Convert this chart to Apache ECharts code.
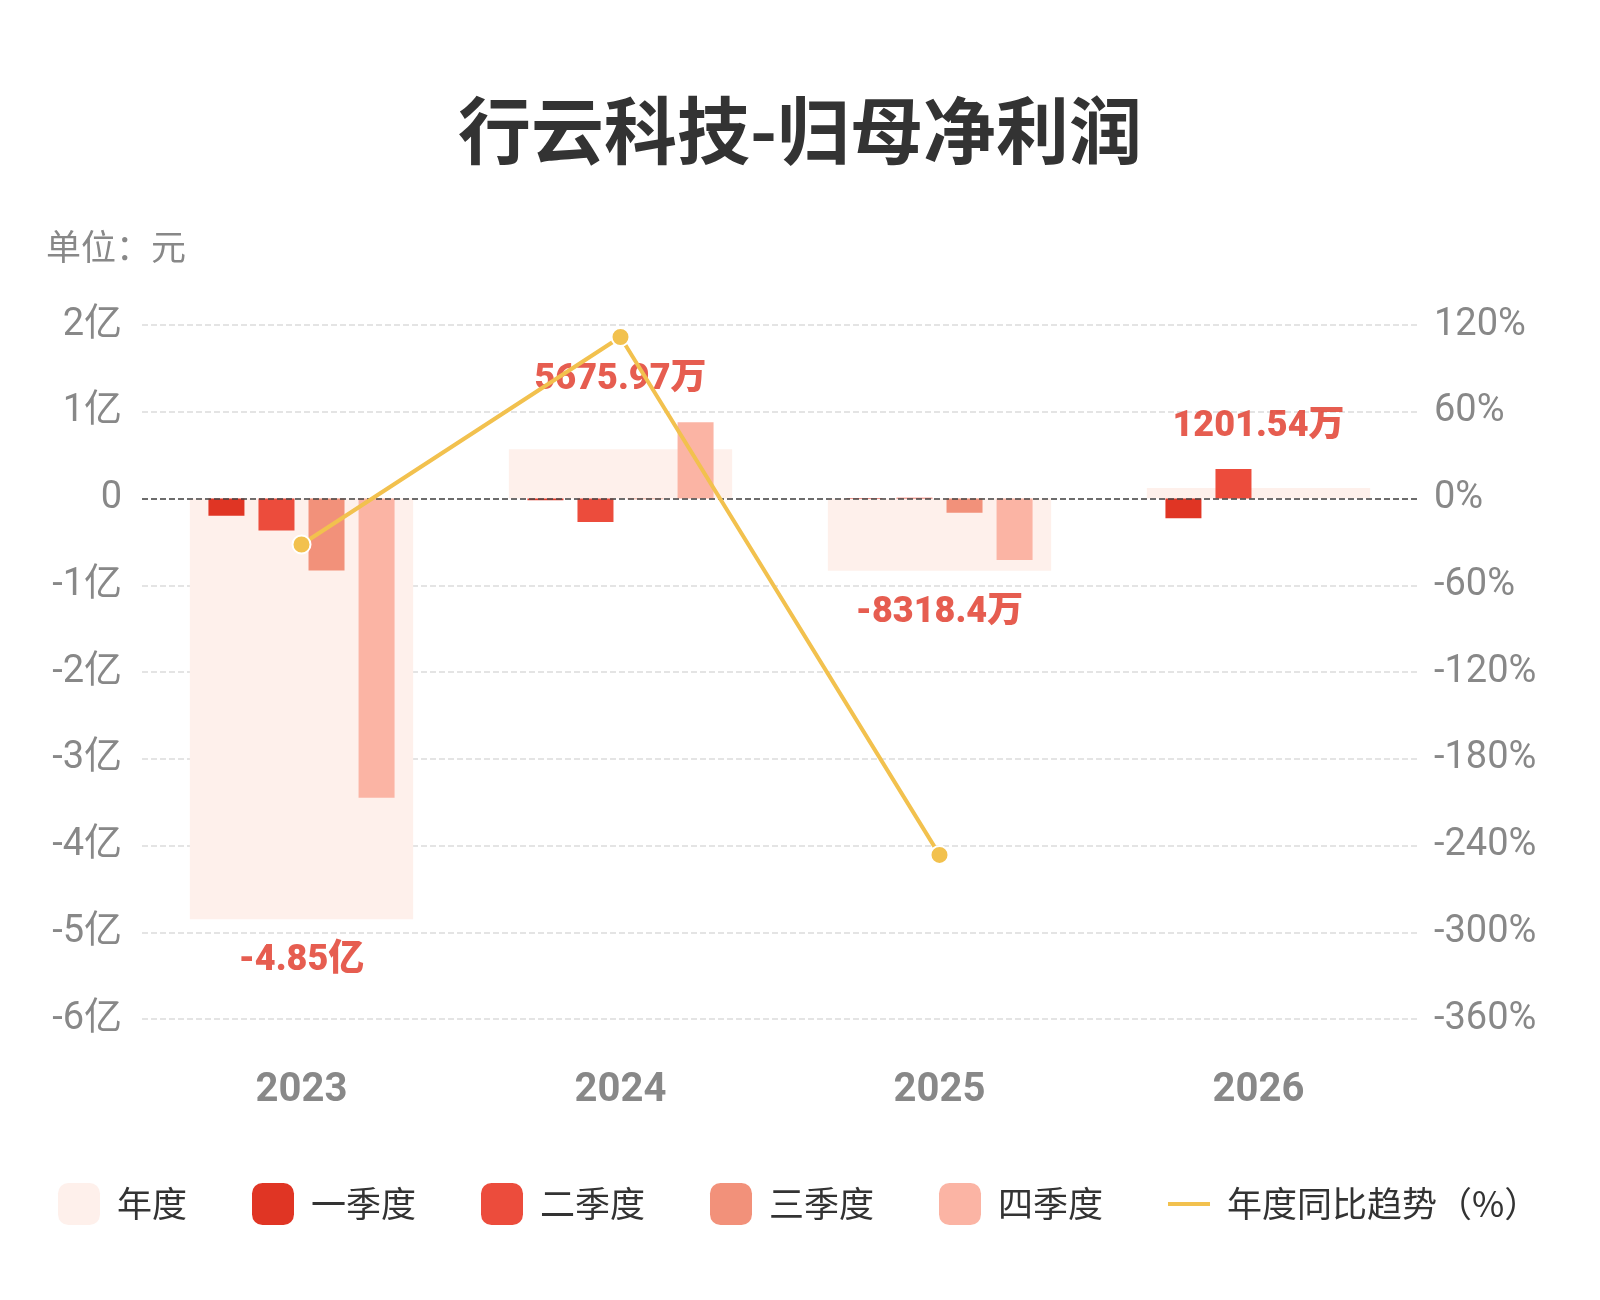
<!DOCTYPE html>
<html>
<head>
<meta charset="utf-8">
<script src="https://cdn.jsdelivr.net/npm/echarts@6/dist/echarts.min.js"></script>
<style>
html, body { margin: 0; padding: 0; background: #fff; }
#main { width: 1600px; height: 1300px; }
</style>
</head>
<body>
<div id="main"></div>
<script>
var years = ['2023', '2024', '2025', '2026'];
// 单位：元
var annual = [-485000000, 56759700, -83184000, 12015400];
var q1 = [-20000000, -2000000, 500000, -22700000];
var q2 = [-37000000, -27000000, 1000000, 34100000];
var q3 = [-83000000, -1000000, -16500000, null];
var q4 = [-345000000, 88000000, -71000000, null];
var yoy = [-31.8, 111.7, -246.5, null];
var leftTicks = { min: -600000000, max: 200000000, interval: 100000000 };
var rightTicks = { min: -360, max: 120, interval: 60 };

var numFont = 'Roboto, "Noto Sans CJK SC", sans-serif';
var cjkFont = '"Noto Sans CJK SC", sans-serif';
var red = '#e03524';

function fmtYuan(v) {
    if (Math.abs(v) >= 100000000) {
        return parseFloat((v / 100000000).toFixed(2)) + '亿';
    }
    return parseFloat((v / 10000).toFixed(2)) + '万';
}

// 标签放在每年柱子的最外端
var labelPoints = years.map(function (y, i) {
    var vals = [annual[i], q1[i], q2[i], q3[i], q4[i]].filter(function (v) { return v != null; });
    var ext = annual[i] >= 0 ? Math.max.apply(null, vals) : Math.min.apply(null, vals);
    return {
        value: ext,
        label: { position: annual[i] >= 0 ? 'top' : 'bottom' },
        text: fmtYuan(annual[i])
    };
});

var myChart = echarts.init(document.getElementById('main'));

var option = {
    backgroundColor: '#fff',
    title: {
        text: '行云科技-归母净利润',
        left: 'center',
        top: 89,
        textStyle: { fontSize: 73, fontWeight: 'bold', color: '#333', fontFamily: cjkFont }
    },
    graphic: [{
        type: 'text',
        left: 46,
        top: 229,
        style: { text: '单位：元', fontSize: 35, fill: '#888', fontFamily: cjkFont }
    }],
    legend: {
        left: 53,
        top: 1178,
        itemWidth: 42,
        itemHeight: 42,
        itemGap: 65,
        data: [
            { name: '年度', icon: 'roundRect' },
            { name: '一季度', icon: 'roundRect' },
            { name: '二季度', icon: 'roundRect' },
            { name: '三季度', icon: 'roundRect' },
            { name: '四季度', icon: 'roundRect' },
            {
                name: '年度同比趋势（%）',
                icon: 'path://M0,0 L40,0 L40,4 L0,4 Z',
                itemStyle: { color: '#f2c14e', borderWidth: 0, opacity: 1 }
            }
        ],
        textStyle: { fontSize: 35, color: '#333', fontFamily: cjkFont, padding: [0, 0, 0, 12] }
    },
    grid: { left: 142, right: 182, top: 325, bottom: 281 },
    xAxis: [{
        type: 'category',
        data: years,
        axisLine: { show: false },
        axisTick: { show: false },
        axisLabel: { margin: 52, fontSize: 40, fontWeight: 'bold', color: '#888', fontFamily: numFont }
    }, {
        type: 'category',
        data: years,
        show: false
    }],
    yAxis: [{
        type: 'value',
        min: leftTicks.min,
        max: leftTicks.max,
        interval: leftTicks.interval,
        axisLine: { show: false },
        axisTick: { show: false },
        splitLine: { lineStyle: { type: 'dashed', color: '#dcdcdc', width: 1.5 } },
        axisLabel: {
            margin: 20,
            fontSize: 38,
            color: '#888',
            fontFamily: numFont,
            formatter: function (v) { return v === 0 ? '0' : (v / 100000000) + '亿'; }
        }
    }, {
        type: 'value',
        min: rightTicks.min,
        max: rightTicks.max,
        interval: rightTicks.interval,
        axisLine: { show: false },
        axisTick: { show: false },
        splitLine: { show: false },
        axisLabel: {
            margin: 16,
            fontSize: 38,
            color: '#888',
            fontFamily: numFont,
            formatter: '{value}%'
        }
    }],
    series: [{
        name: '年度',
        type: 'bar',
        xAxisIndex: 1,
        barWidth: '70%',
        itemStyle: { color: '#fef0eb' },
        data: annual,
        z: 1
    }, {
        name: '一季度',
        type: 'bar',
        barWidth: 36,
        barGap: '39%',
        itemStyle: { color: '#e03524' },
        data: q1,
        z: 2,
        markLine: {
            silent: true,
            symbol: 'none',
            label: { show: false },
            lineStyle: { type: 'dashed', color: '#444', width: 1.5 },
            data: [{ yAxis: 0 }]
        }
    }, {
        name: '二季度',
        type: 'bar',
        barWidth: 36,
        barGap: '39%',
        itemStyle: { color: '#ec4c3c' },
        data: q2,
        z: 2
    }, {
        name: '三季度',
        type: 'bar',
        barWidth: 36,
        barGap: '39%',
        itemStyle: { color: '#f2917a' },
        data: q3,
        z: 2
    }, {
        name: '四季度',
        type: 'bar',
        barWidth: 36,
        barGap: '39%',
        itemStyle: { color: '#fbb4a4' },
        data: q4,
        z: 2
    }, {
        name: '年度标签',
        type: 'scatter',
        xAxisIndex: 1,
        symbolSize: 0,
        silent: true,
        z: 3,
        data: labelPoints,
        label: {
            show: true,
            distance: 24,
            fontSize: 36,
            fontWeight: 900,
            color: red,
            fontFamily: numFont,
            formatter: function (p) { return p.data.text; }
        }
    }, {
        name: '年度同比趋势（%）',
        type: 'line',
        yAxisIndex: 1,
        data: yoy,
        z: 5,
        symbol: 'circle',
        symbolSize: 18,
        lineStyle: { color: '#f2c14e', width: 4 },
        itemStyle: { color: '#f2c14e', borderColor: '#fff', borderWidth: 2 }
    }]
};

myChart.setOption(option);
</script>
</body>
</html>
